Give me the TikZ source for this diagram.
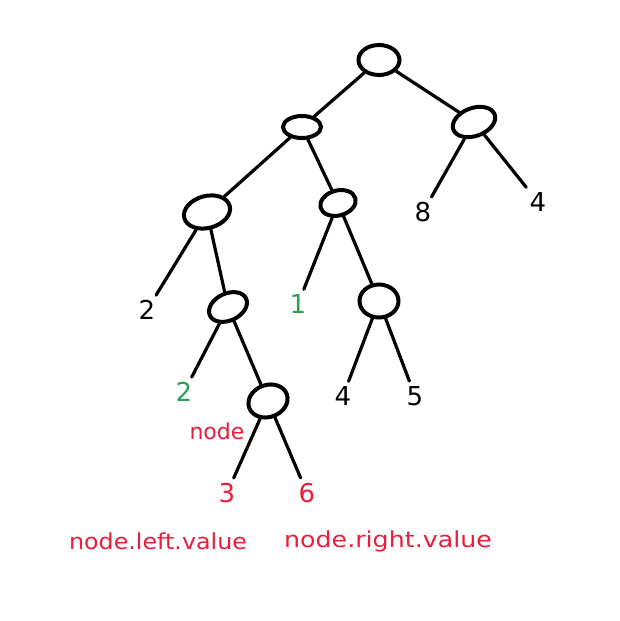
\documentclass[tikz,border=0pt]{standalone}
\usepackage{fontspec}
\setmainfont{DejaVu Sans}
\usetikzlibrary{shapes.geometric}
\definecolor{hred}{HTML}{E91E3C}
\definecolor{hgreen}{HTML}{2B9E55}
\begin{document}
\begin{tikzpicture}[x=1pt,y=-1pt,
  tn/.style={ellipse, draw, line width=4pt, inner sep=0pt},
  edge/.style={line width=3.2pt, line cap=round},
  leaf/.style={font=\fontsize{26}{26}\selectfont, inner sep=5pt},
  lbl/.style={font=\fontsize{22}{22}\selectfont, text=hred, inner sep=0pt}
]
\fill[white] (0,0) rectangle (619,621);
\useasboundingbox (0,0) rectangle (619,621);

% tree nodes
\node[tn, minimum width=41pt, minimum height=30pt] (r) at (379,60) {};
\node[tn, minimum width=38pt, minimum height=22pt] (a) at (302,127) {};
\node[tn, minimum width=44pt, minimum height=28pt, rotate=20] (b) at (474,122) {};
\node[tn, minimum width=47pt, minimum height=32pt, rotate=15] (c) at (207,212) {};
\node[tn, minimum width=36pt, minimum height=25pt, rotate=15] (d) at (338,203) {};
\node[tn, minimum width=40pt, minimum height=27pt, rotate=25] (e) at (228,307) {};
\node[tn, minimum width=39pt, minimum height=33pt] (f) at (379,301) {};
\node[tn, minimum width=40pt, minimum height=32pt, rotate=20] (g) at (268,401) {};

% leaves
\node[leaf] (l8) at (423,212) {8};
\node[leaf] (l4a) at (538,202) {4};
\node[leaf] (l2a) at (147,310) {2};
\node[leaf, text=hgreen] (l1) at (298,304) {1};
\node[leaf] (l4b) at (343,396) {4};
\node[leaf] (l5) at (415,396) {5};
\node[leaf, text=hgreen] (l2b) at (184,392) {2};
\node[leaf, text=hred] (l3) at (227,493) {3};
\node[leaf, text=hred] (l6) at (307,493) {6};

% labels
\node[lbl] (nodelbl) at (217,431) {node};
\node[lbl, xscale=1.08, transform shape] (leftlbl) at (158,541) {node.left.value};
\node[lbl, xscale=1.15, transform shape] (rightlbl) at (388,541) {node.right.value};

% edges
\draw[edge] (r) -- (a);
\draw[edge] (r) -- (b);
\draw[edge] (a) -- (c);
\draw[edge] (a) -- (d);
\draw[edge] (b) -- (l8);
\draw[edge] (b) -- (l4a);
\draw[edge] (c) -- (l2a);
\draw[edge] (c) -- (e);
\draw[edge] (d) -- (l1);
\draw[edge] (d) -- (f);
\draw[edge] (e) -- (l2b);
\draw[edge] (e) -- (g);
\draw[edge] (f) -- (l4b);
\draw[edge] (f) -- (l5);
\draw[edge] (g) -- (l3);
\draw[edge] (g) -- (l6);
\end{tikzpicture}
\end{document}
